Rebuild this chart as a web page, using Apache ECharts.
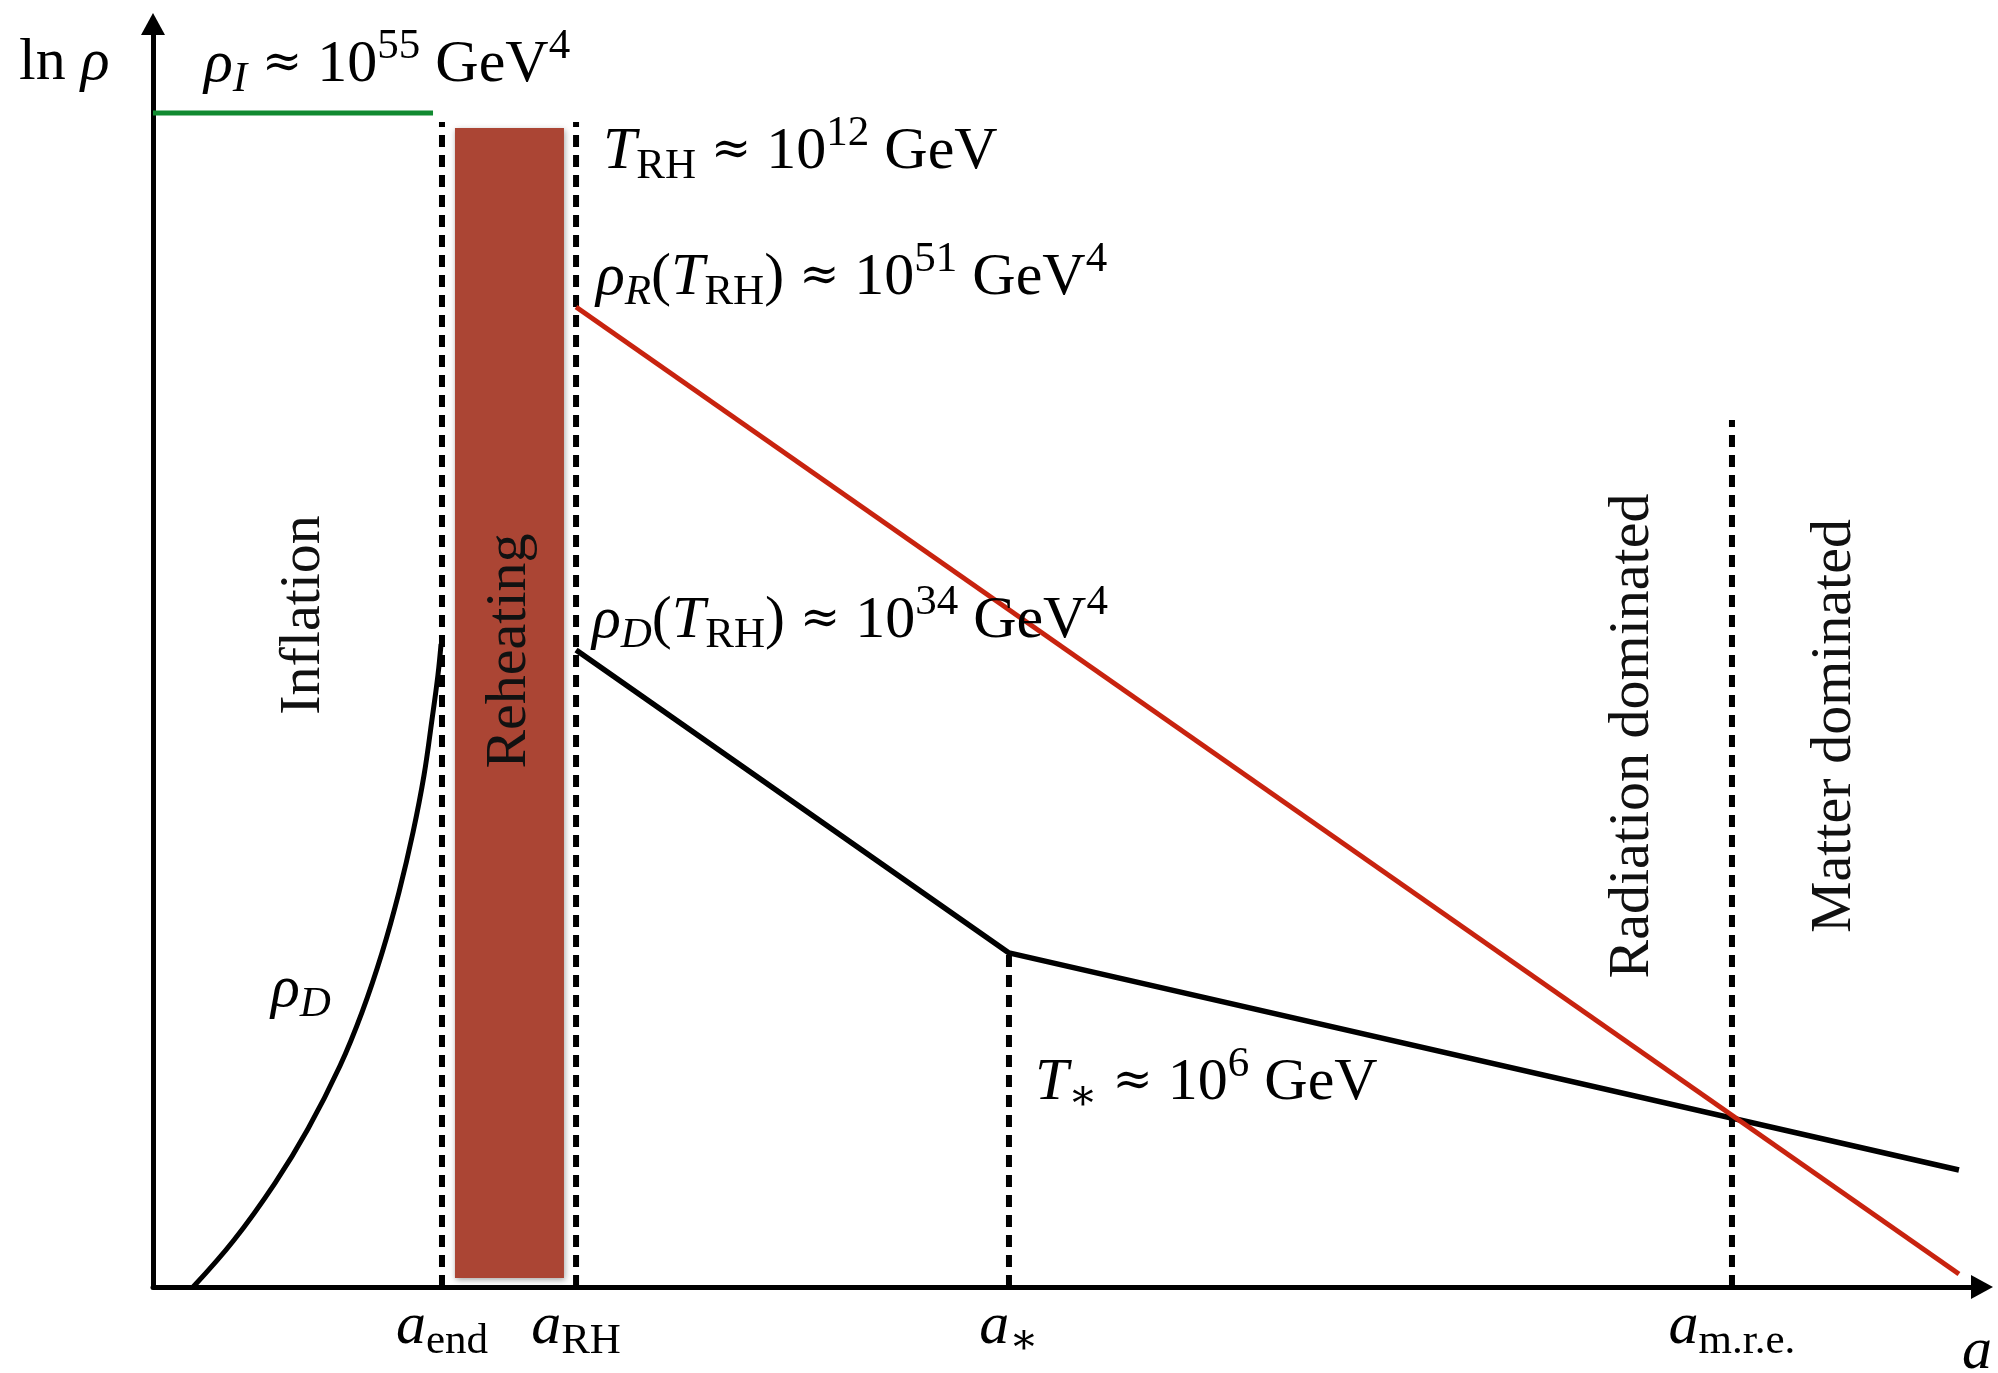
<!DOCTYPE html>
<html><head><meta charset="utf-8">
<script src="https://cdn.jsdelivr.net/npm/echarts@6/dist/echarts.min.js"></script>
<style>html,body{margin:0;padding:0;background:#fff}#c{width:1998px;height:1373px}</style>
</head><body><div id="c"></div>
<script>
// ---- data (abstract units: a from 0..100, ln rho from 0..100) ----
const inflationLevel = [[0, 92.95], [15.31, 92.95]];
const rhoDInflation = [[2.19, 0], [4.43, 3.72], [6.67, 8.23], [8.47, 12.51], [10.22, 17.50], [11.43, 21.77],
  [12.52, 26.45], [13.45, 31.27], [14.22, 36.03], [14.82, 40.54], [15.25, 44.89], [15.58, 48.46], [15.75, 50.91]];
const rhoRadiation = [[23.13, 77.59], [98.74, 1.03]];
const rhoDark = [[23.13, 50.44], [46.80, 26.45], [98.74, 9.26]];
const reheatBand = [[16.51, 22.47, 0.71, 91.77]];
const epochX = [15.80, 23.13, 46.80, 86.33];
const epochTop = [92.24, 92.24, 26.45, 68.65];
const epochLabels = ['{i|a}{s|end}', '{i|a}{s|RH}', '{i|a}{s|∗}', '{i|a}{s|m.r.e.}'];

const MF = "'Liberation Serif','DejaVu Serif',serif";
const M = 60, S = 43;
const rich = {
  i: {fontFamily: MF, fontStyle: 'italic', fontSize: M, color: '#000', verticalAlign: 'middle'},
  r: {fontFamily: MF, fontSize: M, color: '#000', verticalAlign: 'middle'},
  op: {fontFamily: "'DejaVu Serif',serif", fontSize: 48, color: '#000', verticalAlign: 'middle'},
  si: {fontFamily: MF, fontStyle: 'italic', fontSize: S, color: '#000', padding: [30, 0, 0, 0], verticalAlign: 'middle'},
  s: {fontFamily: MF, fontSize: S, color: '#000', padding: [30, 0, 0, 0], verticalAlign: 'middle'},
  up: {fontFamily: MF, fontSize: S, color: '#000', padding: [0, 0, 36, 0], verticalAlign: 'middle'}
};

const dashed = epochX.map((x, k) => ({
  type: 'line', data: [[x, 0], [x, epochTop[k]]], showSymbol: false, silent: true, z: 3,
  lineStyle: {color: '#000', width: 6, type: [12, 8], cap: 'butt'}
}));

const chart = echarts.init(document.getElementById('c'), null, {renderer: 'canvas'});

function mathText(x, y, txt) {
  return {type: 'text', x: x, y: y, z: 100, style: {text: txt, rich: rich, align: 'left', verticalAlign: 'middle'}};
}
function rotText(x, y, txt) {
  return {type: 'text', x: x, y: y, rotation: Math.PI / 2, z: 100,
    style: {text: txt, fontFamily: MF, fontSize: 58, fill: '#111', align: 'center', verticalAlign: 'middle'}};
}

chart.setOption({
  animation: false,
  backgroundColor: '#fff',
  grid: {left: 153, right: 16, top: 24, bottom: 86, containLabel: false},
  xAxis: {
    type: 'value', min: 0, max: 100,
    axisLine: {show: true, onZero: false, lineStyle: {color: '#000', width: 5}, symbol: ['none', 'triangle'], symbolSize: [24, 22]},
    axisTick: {show: false}, splitLine: {show: false},
    axisLabel: {
      customValues: epochX, margin: 40, verticalAlign: 'middle', align: 'center',
      formatter: function (v) {
        let best = 0;
        epochX.forEach((e, k) => { if (Math.abs(e - v) < Math.abs(epochX[best] - v)) best = k; });
        return epochLabels[best];
      },
      rich: rich
    }
  },
  yAxis: {
    type: 'value', min: 0, max: 100,
    axisLine: {show: true, onZero: false, lineStyle: {color: '#000', width: 5}, symbol: ['none', 'triangle'], symbolSize: [24, 22]},
    axisTick: {show: false}, splitLine: {show: false}, axisLabel: {show: false}
  },
  series: [
    {type: 'custom', data: reheatBand, z: 2, silent: true,
      renderItem: function (params, api) {
        const p0 = api.coord([api.value(0), api.value(3)]);
        const p1 = api.coord([api.value(1), api.value(2)]);
        return {type: 'rect', shape: {x: p0[0], y: p0[1], width: p1[0] - p0[0], height: p1[1] - p0[1]},
          style: {fill: '#ab4534', shadowBlur: 6, shadowColor: 'rgba(0,0,0,0.35)', shadowOffsetX: 1, shadowOffsetY: 2}};
      }},
    {type: 'line', data: inflationLevel, showSymbol: false, z: 4, lineStyle: {color: '#118a30', width: 5}},
    {type: 'line', data: rhoDInflation, showSymbol: false, smooth: 0.4, z: 4, lineStyle: {color: '#000', width: 5}},
    {type: 'line', data: rhoDark, showSymbol: false, z: 4, lineStyle: {color: '#000', width: 5.5}},
    {type: 'line', data: rhoRadiation, showSymbol: false, z: 5, lineStyle: {color: '#c8230f', width: 5}}
  ].concat(dashed),
  graphic: [
    mathText(19, 63, '{r|ln }{i|ρ}'),
    mathText(204, 65, '{i|ρ}{si|I}{r| }{op|≈}{r| 10}{up|55}{r| GeV}{up|4}'),
    mathText(603, 152, '{i|T}{s|RH}{r| }{op|≈}{r| 10}{up|12}{r| GeV}'),
    mathText(596, 278, '{i|ρ}{si|R}{r|(}{i|T}{s|RH}{r|) }{op|≈}{r| 10}{up|51}{r| GeV}{up|4}'),
    mathText(592, 621, '{i|ρ}{si|D}{r|(}{i|T}{s|RH}{r|) }{op|≈}{r| 10}{up|34}{r| GeV}{up|4}'),
    mathText(1035, 1083, '{i|T}{s|∗}{r| }{op|≈}{r| 10}{up|6}{r| GeV}'),
    mathText(271, 990, '{i|ρ}{si|D}'),
    mathText(1962, 1352, '{i|a}'),
    rotText(304, 615, 'Inflation'),
    rotText(510, 651, 'Reheating'),
    rotText(1633, 736, 'Radiation dominated'),
    rotText(1835, 726, 'Matter dominated')
  ]
});
</script></body></html>
